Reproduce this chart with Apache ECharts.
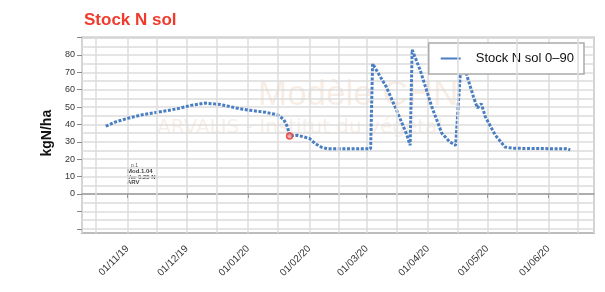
<!DOCTYPE html>
<html><head><meta charset="utf-8">
<script src="https://cdn.jsdelivr.net/npm/echarts@6/dist/echarts.min.js"></script>
<style>html,body{margin:0;padding:0;background:#fff}#c{width:605px;height:292px}</style>
</head><body><div id="c"></div>
<script>
// ---- data ----
const seriesName = 'Stock N sol 0–90';
const dates = ['2019-10-21','2019-10-26','2019-11-01','2019-11-08','2019-11-16','2019-11-26','2019-12-03','2019-12-10','2019-12-18','2019-12-26','2020-01-01','2020-01-10','2020-01-16','2020-01-19','2020-01-21','2020-01-22','2020-01-26','2020-02-01','2020-02-04','2020-02-07','2020-02-10','2020-03-03','2020-03-04','2020-03-11','2020-03-16','2020-03-21','2020-03-23','2020-03-24','2020-03-28','2020-04-03','2020-04-08','2020-04-12','2020-04-15','2020-04-18','2020-04-21','2020-04-24','2020-04-26','2020-04-28','2020-04-30','2020-05-05','2020-05-10','2020-05-14','2020-06-10','2020-06-12'];
const values = [39,41.5,43.5,45.5,47,49,51,52.3,51.5,49.5,48.3,47,45.5,43,38.5,33.4,33.8,32,29,27,26,26,75,61.5,48.5,35,28,83,71.5,50,35,30,28,80,67,56,49.5,52,44.5,34,27,26.3,26,25.5];
const todayDate = '2020-01-22';
const todayValue = 33.4;
const midMonthDates = ['2019-10-16','2019-11-16','2019-12-16','2020-01-16','2020-02-16','2020-03-16','2020-04-16','2020-05-16','2020-06-16'];
const xMin = '2019-10-09', xMax = '2020-06-24';
const yTickMin = -20, yTickMax = 90, yTickStep = 10;
const yMin = -22.5, yMax = 90;

const chart = echarts.init(document.getElementById('c'), null, {renderer:'canvas'});
const pad = n => (n<10?'0':'')+n;
const option = {
  animation:false,
  textStyle:{fontFamily:'Liberation Sans, Arial, sans-serif'},
  title:{text:'Stock N sol', left:79, top:7, textStyle:{color:'#f03a2c', fontSize:17, fontWeight:'bold'}},
  legend:{
    data:[{name:'legendKey', icon:'path://M0 0H20V2H0Z'}],
    formatter:function(){return seriesName;},
    selectedMode:false,
    right:21, top:43, orient:'vertical',
    backgroundColor:'#fff', borderColor:'#aaa', borderWidth:1.5,
    padding:[9,10,9,12], itemWidth:20, itemHeight:2,
    itemStyle:{color:'#4a7ec2', borderWidth:0, borderColor:'transparent', decal:'none'},
    lineStyle:{width:0, type:'solid'},
    textStyle:{fontSize:13, color:'#111', padding:[0,0,0,10]}
  },
  grid:[
    {left:82, right:11, top:37.6, bottom:58.9, show:true, borderColor:'#bdbdbd', borderWidth:2, containLabel:false},
    {left:82, right:11, top:37.6, bottom:63.25, containLabel:false}
  ],
  xAxis:[
    {type:'time', gridIndex:0, min:xMin, max:xMax,
     minInterval:28*86400000, maxInterval:31*86400000,
     axisLine:{show:false},
     axisTick:{show:true, length:4, lineStyle:{color:'#999'}},
     splitLine:{show:true, lineStyle:{color:'#dcdcdc', width:1.5}},
     axisLabel:{rotate:45, fontSize:10, color:'#333', margin:14,
       formatter:function(v){const d=new Date(v); if(d.getDate()!==1) return ''; return pad(d.getDate())+'/'+pad(d.getMonth()+1)+'/'+String(d.getFullYear()).slice(2);}}
    },
    {type:'value', gridIndex:1, min:0, max:1, show:true,
     axisLine:{show:true, onZero:true, lineStyle:{color:'#9a9a9a', width:1.5}},
     axisTick:{show:false}, axisLabel:{show:false}, splitLine:{show:false}}
  ],
  yAxis:[
    {type:'value', gridIndex:0, min:yMin, max:yMax, show:false, splitLine:{show:false}},
    {type:'value', gridIndex:1, min:yTickMin, max:yTickMax, interval:yTickStep,
     name:'kgN/ha', nameLocation:'middle', nameGap:26, nameRotate:90,
     nameTextStyle:{fontSize:14, fontWeight:'bold', color:'#111'},
     axisLine:{show:false},
     axisTick:{show:true, length:5, lineStyle:{color:'#888'}},
     axisLabel:{fontSize:9, color:'#333', margin:7, formatter:function(v){return (v<0||v>80)?'':String(v);}},
     splitLine:{show:true, lineStyle:{color:'#dcdcdc', width:1.5}},
     minorTick:{show:false, splitNumber:2},
     minorSplitLine:{show:true, lineStyle:{color:'#dcdcdc', width:1.5}}
    }
  ],
  graphic:[
    {type:'text', left:258, top:78, z:0, style:{text:'Modèle CHN', fontSize:35, fill:'rgba(225,190,160,0.28)', fontFamily:'Liberation Sans, Arial'}},
    {type:'text', left:157, top:118, z:0, style:{text:'ARVALIS - Institut du végétal', fontSize:20, fill:'rgba(225,190,160,0.25)', fontFamily:'DejaVu Sans'}},
    {type:'text', left:131, top:163, style:{text:'p.1', fontSize:5, fill:'#555'}},
    {type:'text', left:127, top:168, style:{text:'Mod.1.04', fontSize:6, fill:'#444', fontWeight:'bold'}},
    {type:'text', left:127, top:174, style:{text:'Ver 0.25 N', fontSize:6, fill:'#444', fontWeight:'bold'}},
    {type:'text', left:127, top:179, style:{text:'ARV', fontSize:6, fill:'#444', fontWeight:'bold'}}
  ],
  series:[
    {type:'line', name:'legendKey', xAxisIndex:0, yAxisIndex:0, symbol:'none', data:[], silent:true,
     lineStyle:{color:'#4a7ec2', width:1.5, type:'solid'}, itemStyle:{color:'#4a7ec2'}},
    {type:'line', name:'grid', xAxisIndex:0, yAxisIndex:0, data:[], silent:true, z:1,
     markLine:{silent:true, symbol:'none', label:{show:false}, animation:false,
       lineStyle:{color:'#dcdcdc', width:1.5, type:'solid'},
       data: midMonthDates.map(d=>({xAxis:d}))}},
    {type:'line', name:seriesName, xAxisIndex:0, yAxisIndex:0, symbol:'none', z:3,
     lineStyle:{color:'#4a7ec2', width:3, type:[3,1.6], cap:'butt'},
     itemStyle:{color:'#4a7ec2'},
     data: dates.map((d,i)=>[d, values[i]])},
    {type:'scatter', name:'today', xAxisIndex:0, yAxisIndex:0, z:4, symbolSize:6,
     itemStyle:{color:'#f4a0a0', borderColor:'#e8302a', borderWidth:1.5},
     data:[[todayDate, todayValue]]}
  ]
};
chart.setOption(option);
</script></body></html>
